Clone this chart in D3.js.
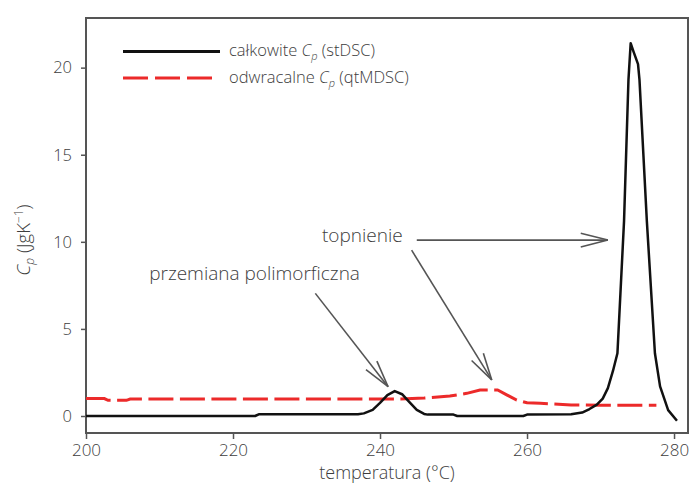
<!DOCTYPE html>
<html>
<head>
<meta charset="utf-8">
<script src="https://cdn.jsdelivr.net/npm/d3@7"></script>
<style>
  body { margin: 0; background: #fff; }
  svg text { font-family: "Open Sans", "Noto Sans", sans-serif; font-weight: 300; fill: #3d3d3d; }
</style>
</head>
<body>
<svg width="690" height="484"></svg>
<script>
// total Cp (stDSC) - black solid line
const tempTotal = [200, 223, 223.5, 237, 237.8, 239, 240, 241, 242, 243, 244, 245, 246, 246.5, 250, 250.5, 259.5, 260,
  266, 267.5, 268.5, 269.5, 270.3, 271, 271.7, 272.3, 273.2, 273.8, 274.1, 274.5, 275.1, 275.3, 276.3, 277.4, 278.1, 279.2, 280.4];
const cpTotal = [0, 0, 0.1, 0.1, 0.15, 0.35, 0.75, 1.2, 1.43, 1.25, 0.8, 0.35, 0.12, 0.08, 0.08, 0, 0, 0.08,
  0.1, 0.2, 0.4, 0.65, 1.0, 1.6, 2.6, 3.6, 11.2, 19.3, 21.4, 20.9, 20.2, 19.3, 11.2, 3.6, 1.7, 0.34, -0.27];

// reversing Cp (qtMDSC) - red dashed line
const tempRev = [200, 202.5, 203, 205.5, 206, 238, 242, 246, 249.5, 251.8, 253.6, 256, 257.3, 258.6, 260, 261.8, 266, 270, 277.6];
const cpRev = [1.0, 1.0, 0.9, 0.9, 0.97, 0.97, 0.97, 1.03, 1.15, 1.3, 1.49, 1.49, 1.2, 0.92, 0.76, 0.73, 0.63, 0.62, 0.62];

const xTicks = [200, 220, 240, 260, 280];
const yTicks = [0, 5, 10, 15, 20];

// annotations: label [T, Cp] and arrows [[T0, Cp0], [T1, Cp1]]
const labels = [
  { text: "topnienie", at: [232.1, 9.98] },
  { text: "przemiana polimorficzna", at: [208.6, 7.8] }
];
const arrows = [
  [[245.0, 10.1], [271.0, 10.1]],
  [[244.3, 9.52], [255.2, 2.07]],
  [[231.2, 7.04], [241.1, 1.68]]
];

const main = function() {
  const svg = d3.select("svg");
  const left = 86, right = 688, top = 18, bottom = 433;

  const x = d3.scaleLinear().domain([200, 281.9]).range([left, right]);
  const y = d3.scaleLinear().domain([-0.976, 22.85]).range([bottom, top]);

  // ticks
  svg.append("g")
    .attr("transform", `translate(0,${bottom})`)
    .call(d3.axisBottom(x).tickValues(xTicks).tickSize(6).tickSizeOuter(0).tickPadding(5))
    .call(g => g.select(".domain").remove())
    .call(g => g.selectAll("line").attr("stroke", "#555").attr("stroke-width", 1.5))
    .call(g => g.selectAll("text").style("font-size", "17px").attr("fill", "#3d3d3d"));

  svg.append("g")
    .attr("transform", `translate(${left},0)`)
    .call(d3.axisLeft(y).tickValues(yTicks).tickSize(5).tickSizeOuter(0).tickPadding(9))
    .call(g => g.select(".domain").remove())
    .call(g => g.selectAll("line").attr("stroke", "#555").attr("stroke-width", 1.5))
    .call(g => g.selectAll("text").style("font-size", "16.5px").attr("fill", "#3d3d3d"));

  // frame
  svg.append("rect")
    .attr("x", left).attr("y", top)
    .attr("width", right - left).attr("height", bottom - top)
    .attr("fill", "none").attr("stroke", "#555").attr("stroke-width", 2);

  const line = d3.line().x(d => x(d[0])).y(d => y(d[1]));

  svg.append("path")
    .datum(d3.zip(tempRev, cpRev))
    .attr("d", line)
    .attr("fill", "none")
    .attr("stroke", "#ec2a2a")
    .attr("stroke-width", 3)
    .attr("stroke-dasharray", "25,6.5");

  svg.append("path")
    .datum(d3.zip(tempTotal, cpTotal))
    .attr("d", line)
    .attr("fill", "none")
    .attr("stroke", "#111")
    .attr("stroke-width", 2.5)
    .attr("stroke-linejoin", "round");

  // arrows with open heads
  const ann = svg.append("g").attr("stroke", "#555").attr("stroke-width", 1.6).attr("fill", "none");
  arrows.forEach(a => {
    const x0 = x(a[0][0]), y0 = y(a[0][1]), x1 = x(a[1][0]), y1 = y(a[1][1]);
    const ang = Math.atan2(y1 - y0, x1 - x0);
    const len = 28, spread = 0.25;
    ann.append("line").attr("x1", x0).attr("y1", y0).attr("x2", x1).attr("y2", y1);
    [-spread, spread].forEach(s => {
      ann.append("line")
        .attr("x1", x1).attr("y1", y1)
        .attr("x2", x1 - len * Math.cos(ang + s))
        .attr("y2", y1 - len * Math.sin(ang + s));
    });
  });

  svg.selectAll(".ann-label")
    .data(labels)
    .enter()
    .append("text")
    .attr("class", "ann-label")
    .attr("x", d => x(d.at[0]))
    .attr("y", d => y(d.at[1]))
    .style("font-size", "19px")
    .text(d => d.text);

  // legend
  const lg = svg.append("g");
  lg.append("line").attr("x1", 123).attr("x2", 220).attr("y1", 51.5).attr("y2", 51.5)
    .attr("stroke", "#111").attr("stroke-width", 3);
  lg.append("line").attr("x1", 123).attr("x2", 212).attr("y1", 78).attr("y2", 78)
    .attr("stroke", "#ec2a2a").attr("stroke-width", 3).attr("stroke-dasharray", "25,7");

  const legendText = (yy, name, tag) => {
    const t = lg.append("text").attr("x", 229).attr("y", yy).style("font-size", "16.5px");
    t.append("tspan").text(name + " ");
    t.append("tspan").attr("font-style", "italic").text("C");
    t.append("tspan").attr("font-style", "italic").attr("dy", 4).style("font-size", "11px").text("p");
    t.append("tspan").attr("dy", -4).text(" (" + tag + ")");
  };
  legendText(56, "całkowite", "stDSC");
  legendText(83, "odwracalne", "qtMDSC");

  // axis titles
  svg.append("text")
    .attr("x", (left + right) / 2).attr("y", 479)
    .attr("text-anchor", "middle")
    .style("font-size", "18px")
    .text("temperatura (°C)");

  const yl = svg.append("text")
    .attr("transform", "translate(30,240) rotate(-90)")
    .attr("text-anchor", "middle")
    .style("font-size", "18.5px");
  yl.append("tspan").attr("font-style", "italic").text("C");
  yl.append("tspan").attr("font-style", "italic").attr("dy", 4).style("font-size", "12px").text("p");
  yl.append("tspan").attr("dy", -4).text(" (JgK");
  yl.append("tspan").attr("dy", -7).style("font-size", "12px").text("−1");
  yl.append("tspan").attr("dy", 7).text(")");
};

window.onload = main;
</script>
</body>
</html>
